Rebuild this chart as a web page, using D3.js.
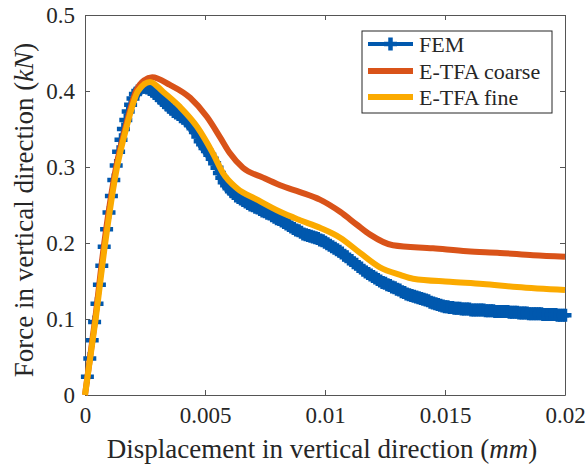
<!DOCTYPE html>
<html>
<head>
<meta charset="utf-8">
<script src="https://cdn.jsdelivr.net/npm/d3@7"></script>
</head>
<body style="margin:0">
<svg width="585" height="466" style="display:block"></svg>
<script>
// axis ticks
const xTicks = [0, 0.005, 0.01, 0.015, 0.02];
const xTickLabels = ["0", "0.005", "0.01", "0.015", "0.02"];
const yTicks = [0, 0.1, 0.2, 0.3, 0.4, 0.5];
const yTickLabels = ["0", "0.1", "0.2", "0.3", "0.4", "0.5"];

const seriesNames = ["FEM", "E-TFA coarse", "E-TFA fine"];

// FEM reference solution (displacement mm, force kN)
const femDisp = [
  0.0001, 0.0002, 0.0003, 0.0004, 0.0005, 0.0006, 0.0007, 0.0008, 0.0009, 0.0010,
  0.0011, 0.0012, 0.0013, 0.0014, 0.0015, 0.0016, 0.0017, 0.0018, 0.0019, 0.0020,
  0.0021, 0.0022, 0.0023, 0.0024, 0.0025, 0.0026, 0.0027, 0.0028, 0.0029, 0.0030,
  0.0031, 0.0032, 0.0033, 0.0034, 0.0035, 0.0036, 0.0037, 0.0038, 0.0039, 0.0040,
  0.0041, 0.0042, 0.0043, 0.0044, 0.0045, 0.0046, 0.0047, 0.0048, 0.0049, 0.0050,
  0.0051, 0.0052, 0.0053, 0.0054, 0.0055, 0.0056, 0.0057, 0.0058, 0.0059, 0.0060,
  0.0061, 0.0062, 0.0063, 0.0064, 0.0065, 0.0066, 0.0067, 0.0068, 0.0069, 0.0070,
  0.0071, 0.0072, 0.0073, 0.0074, 0.0075, 0.0076, 0.0077, 0.0078, 0.0079, 0.0080,
  0.0081, 0.0082, 0.0083, 0.0084, 0.0085, 0.0086, 0.0087, 0.0088, 0.0089, 0.0090,
  0.0091, 0.0092, 0.0093, 0.0094, 0.0095, 0.0096, 0.0097, 0.0098, 0.0099, 0.0100,
  0.0101, 0.0102, 0.0103, 0.0104, 0.0105, 0.0106, 0.0107, 0.0108, 0.0109, 0.0110,
  0.0111, 0.0112, 0.0113, 0.0114, 0.0115, 0.0116, 0.0117, 0.0118, 0.0119, 0.0120,
  0.0121, 0.0122, 0.0123, 0.0124, 0.0125, 0.0126, 0.0127, 0.0128, 0.0129, 0.0130,
  0.0131, 0.0132, 0.0133, 0.0134, 0.0135, 0.0136, 0.0137, 0.0138, 0.0139, 0.0140,
  0.0141, 0.0142, 0.0143, 0.0144, 0.0145, 0.0146, 0.0147, 0.0148, 0.0149, 0.0150,
  0.0151, 0.0152, 0.0153, 0.0154, 0.0155, 0.0156, 0.0157, 0.0158, 0.0159, 0.0160,
  0.0161, 0.0162, 0.0163, 0.0164, 0.0165, 0.0166, 0.0167, 0.0168, 0.0169, 0.0170,
  0.0171, 0.0172, 0.0173, 0.0174, 0.0175, 0.0176, 0.0177, 0.0178, 0.0179, 0.0180,
  0.0181, 0.0182, 0.0183, 0.0184, 0.0185, 0.0186, 0.0187, 0.0188, 0.0189, 0.0190,
  0.0191, 0.0192, 0.0193, 0.0194, 0.0195, 0.0196, 0.0197, 0.0198, 0.0199, 0.0200
];
const femForce = [
  0.024, 0.048, 0.072, 0.096, 0.120, 0.145, 0.170, 0.195, 0.218, 0.240,
  0.262, 0.283, 0.302, 0.320, 0.336, 0.350, 0.362, 0.373, 0.382, 0.390,
  0.396, 0.400, 0.403, 0.405, 0.405, 0.404, 0.402, 0.400, 0.397, 0.394,
  0.391, 0.388, 0.385, 0.382, 0.379, 0.376, 0.373, 0.371, 0.369, 0.366,
  0.364, 0.362, 0.359, 0.355, 0.351, 0.346, 0.340, 0.334, 0.330, 0.325,
  0.321, 0.316, 0.311, 0.305, 0.299, 0.292, 0.286, 0.280, 0.276, 0.272,
  0.268, 0.265, 0.262, 0.260, 0.258, 0.256, 0.254, 0.252, 0.250, 0.249,
  0.247, 0.246, 0.244, 0.242, 0.241, 0.239, 0.238, 0.236, 0.234, 0.232,
  0.231, 0.229, 0.227, 0.225, 0.223, 0.221, 0.219, 0.217, 0.216, 0.214,
  0.212, 0.211, 0.210, 0.209, 0.208, 0.207, 0.206, 0.204, 0.203, 0.201,
  0.199, 0.197, 0.195, 0.193, 0.191, 0.189, 0.187, 0.184, 0.182, 0.179,
  0.177, 0.174, 0.172, 0.169, 0.167, 0.164, 0.162, 0.160, 0.158, 0.156,
  0.154, 0.152, 0.150, 0.148, 0.147, 0.145, 0.144, 0.142, 0.141, 0.139,
  0.138, 0.136, 0.135, 0.133, 0.132, 0.131, 0.130, 0.129, 0.128, 0.127,
  0.126, 0.125, 0.124, 0.122, 0.121, 0.120, 0.119, 0.118, 0.117, 0.116,
  0.116, 0.115, 0.115, 0.114, 0.114, 0.114, 0.113, 0.113, 0.113, 0.113,
  0.112, 0.112, 0.112, 0.112, 0.112, 0.112, 0.111, 0.111, 0.111, 0.111,
  0.110, 0.110, 0.110, 0.110, 0.110, 0.110, 0.109, 0.109, 0.109, 0.109,
  0.108, 0.108, 0.108, 0.108, 0.107, 0.107, 0.107, 0.107, 0.107, 0.107,
  0.106, 0.106, 0.106, 0.106, 0.106, 0.106, 0.105, 0.105, 0.105, 0.105
];

// E-TFA coarse
const coarseDisp = [0, 0.00042, 0.00079, 0.00129, 0.00167, 0.00213, 0.00246, 0.0028, 0.00354, 0.00438,
  0.00508, 0.00563, 0.00604, 0.00658, 0.00742, 0.00813, 0.00896, 0.00979, 0.01063, 0.01133,
  0.01188, 0.01283, 0.0145, 0.01592, 0.01729, 0.01867, 0.02];
const coarseForce = [0, 0.099, 0.197, 0.299, 0.350, 0.400, 0.414, 0.418, 0.408, 0.391,
  0.366, 0.339, 0.318, 0.299, 0.286, 0.276, 0.267, 0.257, 0.241, 0.224,
  0.211, 0.197, 0.193, 0.189, 0.187, 0.184, 0.182];

// E-TFA fine
const fineDisp = [0, 0.00044, 0.00083, 0.00133, 0.00171, 0.00221, 0.00271, 0.00325, 0.00396, 0.00467,
  0.00533, 0.00575, 0.00633, 0.00717, 0.00813, 0.00896, 0.00979, 0.01063, 0.01146, 0.01229,
  0.01313, 0.01367, 0.01521, 0.01658, 0.018, 0.02];
const fineForce = [0, 0.099, 0.197, 0.299, 0.350, 0.400, 0.412, 0.399, 0.379, 0.353,
  0.318, 0.292, 0.272, 0.257, 0.241, 0.230, 0.220, 0.207, 0.187, 0.168,
  0.158, 0.153, 0.149, 0.146, 0.142, 0.138];

const colors = ["#0058AE", "#D95319", "#FBAA00"];
const serif = "Liberation Serif";
const textColor = "#262626";

const margin = {top: 15, right: 20, bottom: 71, left: 85};
const width = 585 - margin.left - margin.right;
const height = 466 - margin.top - margin.bottom;

const svg = d3.select("svg");
const g = svg.append("g").attr("transform", "translate(" + margin.left + "," + margin.top + ")");

const x = d3.scaleLinear().domain([0, 0.02]).range([0, width]);
const y = d3.scaleLinear().domain([0, 0.5]).range([height, 0]);

// box + inward ticks on all sides
const axisColor = "#555";
function styleAxis(sel) {
  sel.attr("font-family", null).attr("font-size", null);
  sel.selectAll("path.domain").attr("stroke", axisColor);
  sel.selectAll(".tick line").attr("stroke", axisColor);
  sel.selectAll("text")
    .attr("font-family", serif).attr("font-size", 23).attr("fill", textColor);
}
g.append("g").attr("transform", "translate(0," + height + ")")
  .call(d3.axisBottom(x).tickValues(xTicks).tickSize(-5).tickSizeOuter(0)
    .tickFormat((d, i) => xTickLabels[i]))
  .call(styleAxis)
  .selectAll("text").attr("dy", null).attr("y", 28);
g.append("g")
  .call(d3.axisLeft(y).tickValues(yTicks).tickSize(-5).tickSizeOuter(0).tickPadding(10)
    .tickFormat((d, i) => yTickLabels[i]))
  .call(styleAxis)
  .selectAll("text").attr("dy", null).attr("y", 7.5);
g.append("g")
  .call(d3.axisTop(x).tickValues(xTicks).tickSize(-5).tickSizeOuter(0).tickFormat(""))
  .call(styleAxis);
g.append("g").attr("transform", "translate(" + width + ",0)")
  .call(d3.axisRight(y).tickValues(yTicks).tickSize(-5).tickSizeOuter(0).tickFormat(""))
  .call(styleAxis);

// curves
const line = d3.line().x(d => x(d[0])).y(d => y(d[1]));
const smooth = d3.line().curve(d3.curveMonotoneX).x(d => x(d[0])).y(d => y(d[1]));
const femData = femDisp.map((d, i) => [d, femForce[i]]);
const coarseData = coarseDisp.map((d, i) => [d, coarseForce[i]]);
const fineData = fineDisp.map((d, i) => [d, fineForce[i]]);

const plus = "M-6.5,0H6.5M0,-6.5V6.5";

g.append("path").datum(femData)
  .attr("d", line).attr("fill", "none")
  .attr("stroke", colors[0]).attr("stroke-width", 4);
g.append("g").selectAll("path")
  .data(femData).enter().append("path")
  .attr("transform", d => "translate(" + x(d[0]) + "," + y(d[1]) + ")")
  .attr("d", plus).attr("stroke", colors[0]).attr("stroke-width", 4.5).attr("fill", "none");

g.append("path").datum(coarseData)
  .attr("d", smooth).attr("fill", "none")
  .attr("stroke", colors[1]).attr("stroke-width", 6).attr("stroke-linejoin", "round");
g.append("path").datum(fineData)
  .attr("d", smooth).attr("fill", "none")
  .attr("stroke", colors[2]).attr("stroke-width", 6).attr("stroke-linejoin", "round");

// axis titles
const xt = svg.append("text")
  .attr("x", margin.left + width / 2 - 3).attr("y", 458)
  .attr("text-anchor", "middle")
  .attr("font-family", serif).attr("font-size", 27).attr("fill", textColor);
xt.append("tspan").text("Displacement in vertical direction (");
xt.append("tspan").attr("font-style", "italic").text("mm");
xt.append("tspan").text(")");

const yt = svg.append("text")
  .attr("transform", "translate(33,210) rotate(-90)")
  .attr("text-anchor", "middle")
  .attr("font-family", serif).attr("font-size", 27).attr("fill", textColor);
yt.append("tspan").text("Force in vertical direction (");
yt.append("tspan").attr("font-style", "italic").text("kN");
yt.append("tspan").text(")");

// legend
const legend = svg.append("g").attr("transform", "translate(362,31)");
legend.append("rect").attr("width", 190).attr("height", 82)
  .attr("fill", "#fff").attr("stroke", "#262626").attr("stroke-width", 1);
const entryY = [13, 40, 66];
seriesNames.forEach((name, i) => {
  legend.append("line")
    .attr("x1", 6).attr("x2", 51).attr("y1", entryY[i]).attr("y2", entryY[i])
    .attr("stroke", colors[i]).attr("stroke-width", i === 0 ? 4 : 6);
  if (i === 0) {
    legend.append("path").attr("transform", "translate(28.5," + entryY[i] + ")")
      .attr("d", plus).attr("stroke", colors[0]).attr("stroke-width", 4.5);
  }
  legend.append("text").attr("x", 57).attr("y", entryY[i] + 7.7)
    .attr("font-family", serif).attr("font-size", 22).attr("fill", textColor).text(name);
});
</script>
</body>
</html>
